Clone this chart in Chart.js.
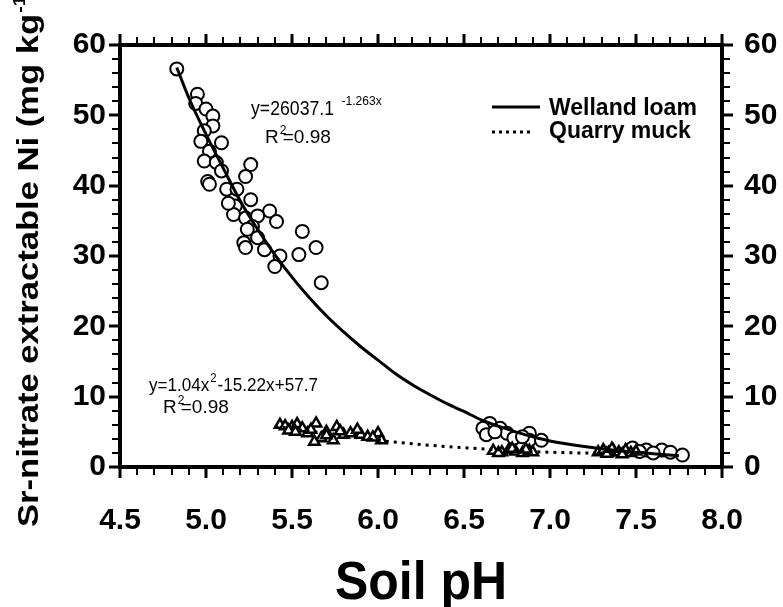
<!DOCTYPE html>
<html><head><meta charset="utf-8">
<script src="https://cdn.jsdelivr.net/npm/chart.js@4/dist/chart.umd.min.js"></script>
<style>html,body{margin:0;padding:0;background:#fff}#wrap{width:783px;height:607px}</style>
</head><body><div id="wrap"><canvas id="c" width="783" height="607"></canvas></div>
<script>
// ---- data ----
const xTickLabels = ['4.5','5.0','5.5','6.0','6.5','7.0','7.5','8.0'];
const yTickLabels = ['0','10','20','30','40','50','60'];
const seriesNames = ['Welland loam', 'Quarry muck'];

const wellandPH = [4.83,4.95,4.94,5.00,5.04,5.04,4.99,4.97,5.09,5.02,4.99,5.06,5.01,5.09,5.26,5.23,5.12,5.18,5.26,5.17,
  5.16,5.23,5.37,5.30,5.41,5.27,5.24,5.30,5.22,5.23,5.34,5.43,5.40,5.56,5.64,5.54,5.67,5.02,5.13,
  6.65,6.61,6.71,6.63,6.75,6.79,6.88,6.88,6.95,6.68,6.84,
  7.48,7.56,7.65,7.70,7.77,7.52,7.60];
const wellandNi = [56.6,53.0,51.7,50.9,49.9,48.5,47.8,46.3,46.1,44.9,43.5,43.3,40.6,42.1,43.0,41.3,39.5,39.5,38.0,37.1,
  35.9,35.4,36.4,35.7,34.9,34.2,33.8,32.6,31.9,31.2,30.9,30.0,28.5,33.5,31.2,30.2,26.2,40.2,37.5,
  6.2,5.5,5.5,4.6,4.8,4.1,4.8,3.8,3.8,5.0,4.3,
  2.7,2.4,2.4,2.1,1.7,2.2,2.0];

const quarryPH = [5.43,5.46,5.50,5.53,5.56,5.64,5.59,5.70,5.76,5.67,5.80,5.84,5.90,5.94,6.00,6.02,5.74,5.63,5.48,5.88,5.70,
  5.52,5.61,5.78,5.97,
  6.67,6.72,6.76,6.80,6.84,6.88,6.90,6.70,6.86,6.78,
  7.28,7.31,7.34,7.37,7.40,7.44,7.47,7.50,7.33,7.42,7.36];
const quarryNi = [6.0,5.8,5.7,6.1,5.5,6.2,4.8,5.0,5.7,4.1,4.6,4.8,4.6,4.3,4.8,3.8,3.8,3.6,5.2,5.3,4.5,
  5.0,5.3,5.1,4.2,
  2.3,2.1,2.4,2.2,2.0,2.3,2.1,2.0,2.5,2.6,
  2.1,2.4,2.0,2.3,2.1,2.4,2.0,2.2,1.9,1.8,2.6];

const wellandFitPH = [4.83,4.9,5.0,5.1,5.2,5.3,5.4,5.5,5.6,5.7,5.8,5.9,6.0,6.1,6.2,6.3,6.4,6.5,6.6,6.7,6.8,6.9,7.0,7.2,7.4,7.6,7.75];
const wellandFitNi = [56.8,52.5,47.3,42.5,37.8,33.8,30.2,27.0,24.1,21.5,19.2,17.1,15.2,13.3,11.7,10.3,9.0,7.9,6.7,5.8,5.0,4.3,3.7,2.9,2.3,1.9,1.6];
const quarryFitPH = [5.4,5.6,5.8,6.0,6.2,6.4,6.6,6.8,7.0,7.2,7.4,7.55];
const quarryFitNi = [5.8,5.1,4.4,3.8,3.3,2.9,2.6,2.3,2.1,2.0,2.0,2.05];

const eqWelland = {main:'y=26037.1', sup:'-1.263x', r2:'=0.98'};
const eqQuarry = {a:'y=1.04x', sup:'2', b:'-15.22x+57.7', r2:'=0.98'};
const xTitle = 'Soil pH';
const yTitleMain = 'Sr-nitrate extractable Ni (mg kg';
const yTitleSup = '-1';

// ---- rendering ----
const FONT = "'Liberation Sans', Arial, Helvetica, sans-serif";
const pts = (xs, ys) => xs.map((x, i) => ({x: x, y: ys[i]}));

const ticksPlugin = {
  id: 'ticksPlugin',
  afterDraw(chart) {
    const ctx = chart.ctx, a = chart.chartArea;
    const xs = chart.scales.x, ys = chart.scales.y;
    ctx.save();
    ctx.strokeStyle = '#000';
    ctx.lineCap = 'butt';
    for (let i = 0; i <= 35; i++) {
      const v = 4.5 + i * 0.1;
      const major = i % 5 === 0;
      const px = Math.round(xs.getPixelForValue(v));
      const len = major ? 11 : 8;
      ctx.lineWidth = major ? 3 : 2;
      ctx.beginPath(); ctx.moveTo(px, a.bottom); ctx.lineTo(px, a.bottom + len); ctx.stroke();
      ctx.beginPath(); ctx.moveTo(px, a.top); ctx.lineTo(px, a.top - len); ctx.stroke();
    }
    for (let i = 0; i <= 30; i++) {
      const v = i * 2;
      const major = i % 5 === 0;
      const py = Math.round(ys.getPixelForValue(v));
      const len = major ? 11 : 8;
      ctx.lineWidth = major ? 3 : 2;
      ctx.beginPath(); ctx.moveTo(a.left, py); ctx.lineTo(a.left - len, py); ctx.stroke();
      ctx.beginPath(); ctx.moveTo(a.right, py); ctx.lineTo(a.right + len, py); ctx.stroke();
    }
    ctx.restore();
  }
};

function supText(ctx, base, sup, rest, x, y, size, supSize, supRise, gapAfter) {
  ctx.font = size + 'px ' + FONT;
  ctx.fillText(base, x, y);
  const w = ctx.measureText(base).width;
  ctx.font = supSize + 'px ' + FONT;
  ctx.fillText(sup, x + w + 1, y - supRise);
  const ws = ctx.measureText(sup).width;
  if (rest) {
    ctx.font = size + 'px ' + FONT;
    ctx.fillText(rest, x + w + (gapAfter === undefined ? ws + 2 : gapAfter), y);
  }
}

const textPlugin = {
  id: 'textPlugin',
  afterDraw(chart) {
    const ctx = chart.ctx;
    const a = chart.chartArea;
    ctx.save();
    ctx.fillStyle = '#000';
    ctx.textAlign = 'left';
    ctx.textBaseline = 'alphabetic';
    // Welland loam equation
    ctx.font = '19px ' + FONT;
    ctx.save(); ctx.translate(251, 115); ctx.scale(0.93, 1.05);
    ctx.fillText(eqWelland.main, 0, 0);
    let w = ctx.measureText(eqWelland.main).width;
    ctx.font = '13px ' + FONT;
    ctx.fillText(eqWelland.sup, w + 8, -10);
    ctx.restore();
    supText(ctx, 'R', '2', eqWelland.r2, 265, 143, 19, 12, 9, 4);
    // Quarry muck equation
    ctx.save(); ctx.translate(149, 391); ctx.scale(0.95, 1.05);
    supText(ctx, eqQuarry.a, eqQuarry.sup, eqQuarry.b, 0, 0, 18, 12, 9);
    ctx.restore();
    supText(ctx, 'R', '2', eqQuarry.r2, 163, 413, 19, 12, 9, 4);

    // legend
    ctx.strokeStyle = '#000';
    ctx.lineWidth = 3;
    ctx.beginPath(); ctx.moveTo(492, 107); ctx.lineTo(540, 107); ctx.stroke();
    ctx.setLineDash([3, 4]);
    ctx.beginPath(); ctx.moveTo(492, 132); ctx.lineTo(533, 132); ctx.stroke();
    ctx.setLineDash([]);
    ctx.font = 'bold 23px ' + FONT;
    ctx.fillText(seriesNames[0], 549, 115);
    ctx.fillText(seriesNames[1], 549, 138);

    // x title
    ctx.save();
    ctx.font = 'bold 54px ' + FONT;
    ctx.textAlign = 'center';
    const wt = ctx.measureText(xTitle).width;
    ctx.translate((a.left + a.right) / 2, 599);
    ctx.scale(172 / wt, 1);
    ctx.fillText(xTitle, 0, 0);
    ctx.restore();

    // y title (rotated)
    ctx.textAlign = 'left';
    ctx.translate(38, 527);
    ctx.rotate(-Math.PI / 2);
    ctx.font = 'bold 30px ' + FONT;
    const wm = ctx.measureText(yTitleMain).width;
    ctx.scale(513 / wm, 1);
    ctx.fillText(yTitleMain, 0, 0);
    ctx.font = 'bold 17px ' + FONT;
    ctx.fillText(yTitleSup, wm + 1, -13);
    const ws = ctx.measureText(yTitleSup).width;
    ctx.font = 'bold 30px ' + FONT;
    ctx.fillText(')', wm + ws + 2, 0);
    ctx.restore();
  }
};

const tickFont = {family: FONT, size: 30, weight: 'bold'};

new Chart(document.getElementById('c').getContext('2d'), {
  type: 'scatter',
  data: {
    datasets: [
      {label: seriesNames[0] + ' fit', data: pts(wellandFitPH, wellandFitNi), showLine: true,
       borderColor: '#000', borderWidth: 3, pointRadius: 0, pointHoverRadius: 0,
       cubicInterpolationMode: 'monotone', fill: false},
      {label: seriesNames[1] + ' fit', data: pts(quarryFitPH, quarryFitNi), showLine: true,
       borderColor: '#000', borderWidth: 3, borderDash: [3, 5], pointRadius: 0, pointHoverRadius: 0,
       cubicInterpolationMode: 'monotone', fill: false},
      {label: seriesNames[1], data: pts(quarryPH, quarryNi), pointStyle: 'triangle',
       pointRadius: 6, pointBorderWidth: 2.5, pointBackgroundColor: '#fff', pointBorderColor: '#000',
       backgroundColor: '#fff', borderColor: '#000'},
      {label: seriesNames[0], data: pts(wellandPH, wellandNi), pointStyle: 'circle',
       pointRadius: 6.5, pointBorderWidth: 2, pointBackgroundColor: '#fff', pointBorderColor: '#000',
       backgroundColor: '#fff', borderColor: '#000'}
    ]
  },
  options: {
    responsive: false, animation: false, devicePixelRatio: 1,
    layout: {padding: 0},
    plugins: {legend: {display: false}, tooltip: {enabled: false}},
    scales: {
      x: {
        type: 'linear', position: 'bottom', min: 4.5, max: 8.0,
        afterFit: s => { s.height = 140; },
        afterBuildTicks: s => { s.ticks = xTickLabels.map(v => ({value: parseFloat(v)})); },
        ticks: {callback: (v, i) => xTickLabels[i], font: tickFont, color: '#000', padding: 36, maxRotation: 0, autoSkip: false},
        grid: {display: true, drawOnChartArea: false, drawTicks: false},
        border: {display: true, width: 4, color: '#000'}
      },
      x2: {
        type: 'linear', position: 'top', min: 4.5, max: 8.0,
        afterFit: s => { s.height = 45; },
        ticks: {display: false},
        grid: {display: true, drawOnChartArea: false, drawTicks: false},
        border: {display: true, width: 4, color: '#000'}
      },
      y: {
        type: 'linear', position: 'left', min: 0, max: 60,
        afterFit: s => { s.width = 120; },
        afterBuildTicks: s => { s.ticks = yTickLabels.map(v => ({value: parseFloat(v)})); },
        ticks: {callback: (v, i) => yTickLabels[i], font: tickFont, color: '#000', padding: 14, autoSkip: false},
        grid: {display: true, drawOnChartArea: false, drawTicks: false},
        border: {display: true, width: 4, color: '#000'}
      },
      y2: {
        type: 'linear', position: 'right', min: 0, max: 60,
        afterFit: s => { s.width = 61; },
        afterBuildTicks: s => { s.ticks = yTickLabels.map(v => ({value: parseFloat(v)})); },
        ticks: {callback: (v, i) => yTickLabels[i], font: tickFont, color: '#000', padding: 22, autoSkip: false},
        grid: {display: true, drawOnChartArea: false, drawTicks: false},
        border: {display: true, width: 4, color: '#000'}
      }
    }
  },
  plugins: [ticksPlugin, textPlugin]
});
</script>
</body></html>
